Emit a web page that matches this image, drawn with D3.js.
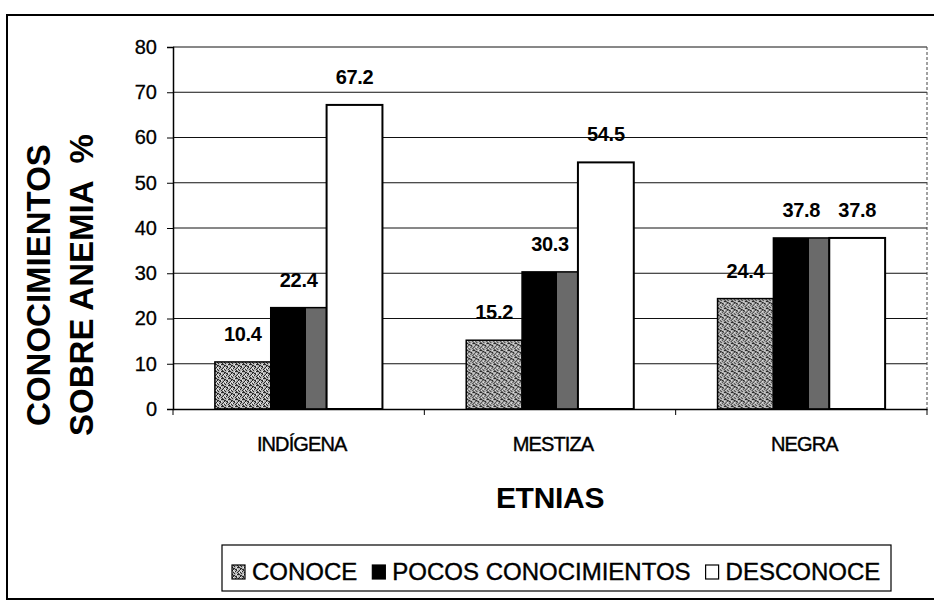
<!DOCTYPE html>
<html>
<head>
<meta charset="utf-8">
<script src="https://cdn.jsdelivr.net/npm/d3@7"></script>
<style>
  html, body { margin: 0; padding: 0; background: #fff; }
  svg { display: block; font-family: Arial, "Liberation Sans", sans-serif; }
</style>
</head>
<body>
<svg id="chart" width="934" height="606"></svg>
<script>
// ---- data ----
const categories = ["INDÍGENA", "MESTIZA", "NEGRA"];
const seriesNames = ["CONOCE", "POCOS CONOCIMIENTOS", "DESCONOCE"];
const conoce = [10.4, 15.2, 24.4];
const pocosConocimientos = [22.4, 30.3, 37.8];
const desconoce = [67.2, 54.5, 37.8];
const yTicks = [0, 10, 20, 30, 40, 50, 60, 70, 80];
const yTitleLines = ["CONOCIMIENTOS", "SOBRE ANEMIA  %"];
const xTitle = "ETNIAS";

(function () {
const seriesValues = [conoce, pocosConocimientos, desconoce];
const rows = categories.map((c, i) => ({
  cat: c,
  vals: seriesNames.map((s, j) => ({ s, j, v: seriesValues[j][i] }))
}));

const svg = d3.select("#chart");
const defs = svg.append("defs");

// stippled grey texture for CONOCE
const pat = defs.append("pattern").attr("id", "stipple")
  .attr("patternUnits", "userSpaceOnUse").attr("width", 7).attr("height", 7);
pat.append("rect").attr("width", 7).attr("height", 7).attr("fill", "#b4b4b4");
[[0,0],[3,1],[5,2],[1,3],[4,4],[2,5],[0,4],[6,5],[2,1],[4,2],[1,0],[6,0],[3,6],[5,3],[0,6],[2,2]].forEach(([px, py]) =>
  pat.append("rect").attr("x", px).attr("y", py).attr("width", 1).attr("height", 1).attr("fill", "#2a2a2a"));
[[2,3],[5,0],[3,4],[6,2],[1,5]].forEach(([px, py]) =>
  pat.append("rect").attr("x", px).attr("y", py).attr("width", 1).attr("height", 1).attr("fill", "#eee"));

// black bar with speckled right portion (as printed)
const pg = defs.append("linearGradient").attr("id", "pocosGrad")
  .attr("x1", 0).attr("x2", 1).attr("y1", 0).attr("y2", 0);
pg.append("stop").attr("offset", 0).attr("stop-color", "#000");
pg.append("stop").attr("offset", 0.63).attr("stop-color", "#000");
pg.append("stop").attr("offset", 0.63).attr("stop-color", "#6a6a6a");
pg.append("stop").attr("offset", 1).attr("stop-color", "#6a6a6a");

const fills = ["url(#stipple)", "url(#pocosGrad)", "#fff"];
const legendFills = ["url(#stipple)", "#000", "#fff"];

// outer frame (left, top, bottom visible)
svg.append("path")
  .attr("d", "M934,15 L7,15 L7,599 L934,599")
  .attr("fill", "none").attr("stroke", "#000").attr("stroke-width", 2);

// scales
const pLeft = 173, pRight = 927, pTop = 47, pBottom = 409;
const x0 = d3.scaleBand().domain(categories).range([pLeft, pRight]).paddingInner(0).paddingOuter(0);
const x1 = d3.scaleBand().domain(seriesNames).range([0, x0.bandwidth()]).paddingInner(0).paddingOuter(0.75);
const y = d3.scaleLinear().domain([0, 80]).range([pBottom, pTop]);

// gridlines
svg.append("g").selectAll("line").data(yTicks.filter(t => t > 0)).join("line")
  .attr("x1", pLeft).attr("x2", pRight)
  .attr("y1", d => y(d)).attr("y2", d => y(d))
  .attr("stroke", "#111").attr("stroke-width", 1);

// right plot edge (dashed)
svg.append("line").attr("x1", pRight).attr("x2", pRight).attr("y1", pTop).attr("y2", pBottom)
  .attr("stroke", "#444").attr("stroke-width", 1).attr("stroke-dasharray", "3,2");

// y axis
const yAxis = d3.axisLeft(y).tickValues(yTicks).tickSize(6).tickPadding(10);
const gy = svg.append("g").attr("transform", `translate(${pLeft},0)`).call(yAxis);
gy.select(".domain").attr("stroke", "#000").attr("stroke-width", 1.5);
gy.selectAll(".tick line").attr("stroke", "#000");
gy.selectAll(".tick text").attr("font-size", 20).attr("fill", "#000")
  .attr("stroke", "#000").attr("stroke-width", 0.3)
  .attr("font-family", "Arial, 'Liberation Sans', sans-serif");

// bars
const groups = svg.append("g").selectAll("g").data(rows).join("g")
  .attr("transform", d => `translate(${x0(d.cat)},0)`);
groups.selectAll("rect").data(d => d.vals).join("rect")
  .attr("x", d => x1(d.s))
  .attr("width", x1.bandwidth())
  .attr("y", d => y(d.v))
  .attr("height", d => y(0) - y(d.v))
  .attr("fill", d => fills[d.j])
  .attr("stroke", "#000")
  .attr("stroke-width", d => d.j === 2 ? 2 : 1.5);

// value labels
groups.selectAll("text").data(d => d.vals).join("text")
  .attr("x", d => x1(d.s) + x1.bandwidth() / 2)
  .attr("y", d => y(d.v) - 21)
  .attr("text-anchor", "middle")
  .attr("font-size", 20).attr("font-weight", "bold")
  .attr("letter-spacing", -0.3)
  .attr("fill", "#000")
  .text(d => d.v.toFixed(1));

// x axis
const xAxis = d3.axisBottom(x0).tickSize(0).tickPadding(0).tickFormat(() => "");
const gx = svg.append("g").attr("transform", `translate(0,${pBottom})`).call(xAxis);
gx.select(".domain").attr("stroke", "#000").attr("stroke-width", 1.5);
// boundary ticks between categories
const boundaries = categories.map(c => x0(c)).concat([x0(categories[categories.length - 1]) + x0.bandwidth()]);
gx.selectAll("line.bnd").data(boundaries).join("line").attr("class", "bnd")
  .attr("x1", d => d).attr("x2", d => d).attr("y1", 0).attr("y2", 6)
  .attr("stroke", "#000").attr("stroke-width", 1);
// category labels
svg.append("g").selectAll("text").data(categories).join("text")
  .attr("x", d => x0(d) + x0.bandwidth() / 2 + 3)
  .attr("y", 451)
  .attr("text-anchor", "middle")
  .attr("font-size", 20)
  .attr("letter-spacing", -0.9)
  .attr("fill", "#000")
  .attr("stroke", "#000").attr("stroke-width", 0.4)
  .text(d => d);

// x title
svg.append("text").attr("x", (pLeft + pRight) / 2).attr("y", 508)
  .attr("text-anchor", "middle").attr("font-size", 30).attr("font-weight", "bold")
  .attr("letter-spacing", -0.3)
  .text(xTitle);

// y title (two lines, rotated)
const yt = svg.append("text")
  .attr("transform", "translate(50,285) rotate(-90)")
  .attr("text-anchor", "middle").attr("font-size", 33).attr("font-weight", "bold")
  .style("white-space", "pre");
yTitleLines.forEach((l, i) => {
  yt.append("tspan").attr("x", 0).attr("dy", i === 0 ? 0 : 43).text(l);
});

// legend
const lg = svg.append("g");
lg.append("rect").attr("x", 222).attr("y", 545).attr("width", 669).attr("height", 46)
  .attr("fill", "#fff").attr("stroke", "#000").attr("stroke-width", 1.2);
let lx = 232;
seriesNames.forEach((s, i) => {
  lg.append("rect").attr("x", lx).attr("y", 565).attr("width", 13).attr("height", 14)
    .attr("fill", legendFills[i]).attr("stroke", "#000").attr("stroke-width", 1.2);
  const t = lg.append("text").attr("x", lx + 20).attr("y", 580)
    .attr("font-size", 24).attr("fill", "#000")
    .attr("stroke", "#000").attr("stroke-width", 0.4)
    .text(s);
  lx = lx + 20 + t.node().getComputedTextLength() + 15;
});
})();
</script>
</body>
</html>
